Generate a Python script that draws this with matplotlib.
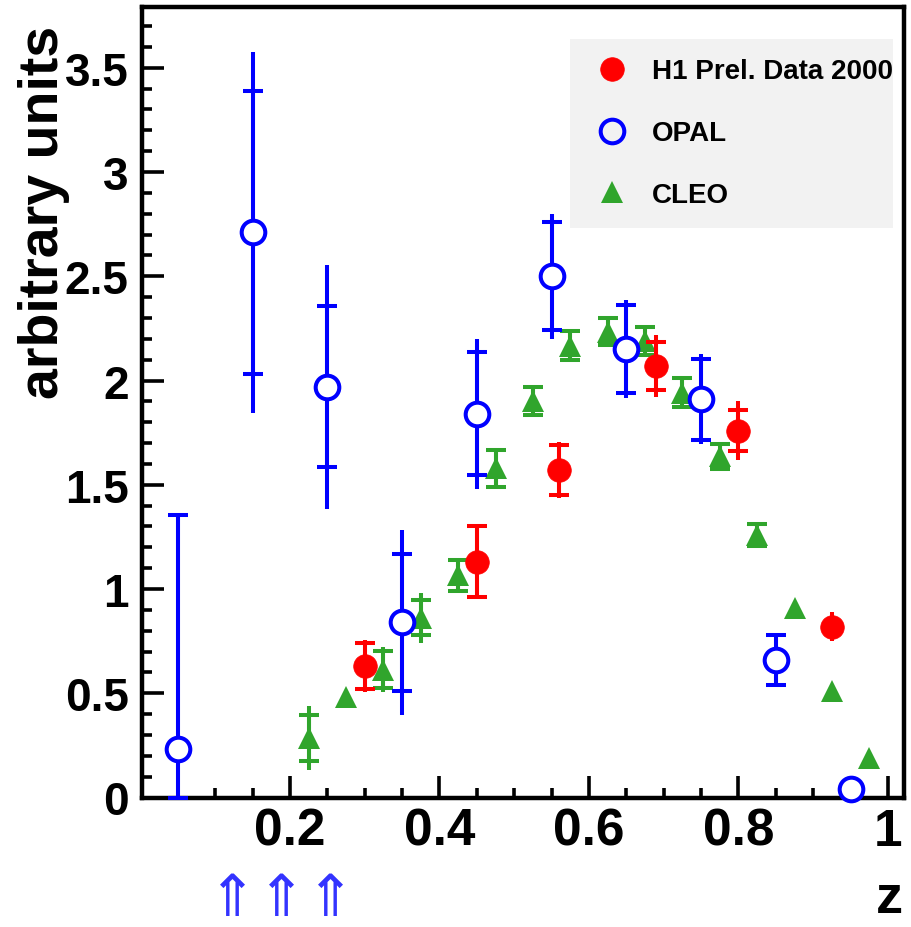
import matplotlib
matplotlib.use("Agg")
import matplotlib.pyplot as plt
import matplotlib.transforms as mtransforms
from matplotlib.lines import Line2D
from matplotlib.ticker import MultipleLocator
import numpy as np

plt.rcParams['font.family'] = ['Liberation Sans', 'DejaVu Sans']
plt.rcParams['font.weight'] = 'bold'

# H1 preliminary data 2000
h1_z = np.array([0.30, 0.45, 0.56, 0.69, 0.80, 0.925])
h1_y = np.array([0.63, 1.13, 1.57, 2.07, 1.76, 0.82])
h1_stat = np.array([0.11, 0.17, 0.12, 0.115, 0.10, 0.0])
h1_tot = np.array([0.125, 0.175, 0.135, 0.15, 0.14, 0.07])

# OPAL
opal_z = np.array([0.05, 0.15, 0.25, 0.35, 0.45, 0.55, 0.65, 0.75, 0.85, 0.95])
opal_y = np.array([0.235, 2.71, 1.97, 0.84, 1.84, 2.50, 2.15, 1.91, 0.66, 0.04])
opal_stat = np.array([1.12, 0.68, 0.385, 0.33, 0.295, 0.26, 0.21, 0.195, 0.12, 0.0])
opal_tot = np.array([1.12, 0.865, 0.585, 0.445, 0.36, 0.30, 0.235, 0.215, 0.12, 0.0])

# CLEO
cleo_z = np.array([0.225, 0.275, 0.325, 0.375, 0.425, 0.475, 0.525, 0.575,
                   0.625, 0.675, 0.725, 0.775, 0.825, 0.875, 0.925, 0.975])
cleo_y = np.array([0.285, 0.484, 0.613, 0.862, 1.065, 1.579, 1.902, 2.166,
                   2.234, 2.188, 1.942, 1.636, 1.257, 0.909, 0.513, 0.189])
cleo_stat = np.array([0.11, 0.0, 0.09, 0.085, 0.076, 0.089, 0.067, 0.07,
                      0.066, 0.068, 0.07, 0.06, 0.053, 0.0, 0.0, 0.0])
cleo_tot = np.array([0.155, 0.0, 0.107, 0.12, 0.08, 0.089, 0.067, 0.07,
                     0.066, 0.068, 0.07, 0.06, 0.053, 0.0, 0.0, 0.0])

x_ticks = [0.2, 0.4, 0.6, 0.8, 1.0]
x_ticklabels = ['0.2', '0.4', '0.6', '0.8', '1']
y_ticks = [0, 0.5, 1, 1.5, 2, 2.5, 3, 3.5]
y_ticklabels = ['0', '0.5', '1', '1.5', '2', '2.5', '3', '3.5']
arrow_z = [0.123, 0.189, 0.254]

RED = '#ff0000'
BLUE = '#0000ff'
GREEN = '#30a52c'

W, H = 912, 928
fig = plt.figure(figsize=(W / 100, H / 100), dpi=100)
ax = fig.add_axes([142.5 / W, (H - 798.5) / H, (904 - 142.5) / W, (798.5 - 8.3) / H])


def draw_points(z, y, stat, tot, color, marker, ms, mfc, mew, zo, clip=True):
    arts = []
    # total uncertainty: plain bar
    m = tot > 0
    c = ax.errorbar(z[m], y[m], yerr=[np.minimum(tot, y)[m], tot[m]], fmt='none',
                    ecolor=color, elinewidth=2.9, capsize=0, zorder=zo)
    arts += c.get_children()
    # statistical uncertainty: bar with caps
    m = stat > 0
    c = ax.errorbar(z[m], y[m], yerr=[np.minimum(stat, y)[m], stat[m]], fmt='none',
                    ecolor=color, elinewidth=2.9, capsize=7, capthick=2.9, zorder=zo)
    arts += c.get_children()
    arts += ax.plot(z, y, ls='none', marker=marker, ms=ms, mfc=mfc, mec=color,
                    mew=mew, zorder=zo + 0.1)
    for a in arts:
        a.set_clip_on(clip)


draw_points(cleo_z, cleo_y, cleo_stat, cleo_tot, GREEN, '^', 16.5, GREEN, 0, 3)
draw_points(opal_z, opal_y, opal_stat, opal_tot, BLUE, 'o', 17, 'white', 2.9, 3.3, clip=False)
draw_points(h1_z, h1_y, h1_stat, h1_tot, RED, 'o', 17, RED, 0.5, 3.6)

ax.set_xlim(0.0027, 1.0214)
ax.set_ylim(0.0, 3.79)

ax.set_xticks(x_ticks)
ax.set_xticklabels(x_ticklabels, fontsize=37, fontweight='bold')
ax.set_yticks(y_ticks)
ax.set_yticklabels(y_ticklabels, fontsize=33, fontweight='bold')
ax.xaxis.set_minor_locator(MultipleLocator(0.05))
ax.yaxis.set_minor_locator(MultipleLocator(0.1))
ax.tick_params(which='both', direction='in', top=False, right=False, width=2.6, color='black')
ax.tick_params(which='major', length=16)
ax.tick_params(which='minor', length=7.5)
ax.tick_params(axis='x', pad=6.5)
ax.tick_params(axis='y', pad=10)
for s in ax.spines.values():
    s.set_linewidth(3.2)

fig.text(44 / W, 1 - 212.5 / H, 'arbitrary units', rotation=90, ha='center', va='center',
         fontsize=40, fontweight='bold')
fig.text(903 / W, 1 - 913 / H, 'z', ha='right', va='baseline', fontsize=39, fontweight='bold')

# arrows below the axis
trans = mtransforms.blended_transform_factory(ax.transData, fig.transFigure)
for az in arrow_z:
    ax.text(az, 0.0, '\u21d1', transform=trans, ha='center', va='bottom',
            fontsize=42, color='#3333ff', fontweight='normal',
            family=['DejaVu Sans'], clip_on=False)

handles = [
    Line2D([], [], ls='none', marker='o', ms=17, mfc=RED, mec=RED, mew=0.5),
    Line2D([], [], ls='none', marker='o', ms=17, mfc='none', mec=BLUE, mew=2.9),
    Line2D([], [], ls='none', marker='^', ms=16.5, mfc=GREEN, mec=GREEN, mew=0),
]
labels = ['H1 Prel. Data 2000', 'OPAL', 'CLEO']
leg = ax.legend(handles, labels, loc='upper left',
                bbox_to_anchor=(0.5614, 0.7258, 0.4242, 0.2341), mode='expand',
                prop={'size': 20, 'weight': 'bold'}, frameon=True, fancybox=False,
                framealpha=1, facecolor='#f2f2f2', edgecolor='none',
                borderpad=0.7, labelspacing=1.29, handlelength=1.6,
                handletextpad=0.66, borderaxespad=0)
leg.set_zorder(2)

fig.savefig('out.png', dpi=100)
